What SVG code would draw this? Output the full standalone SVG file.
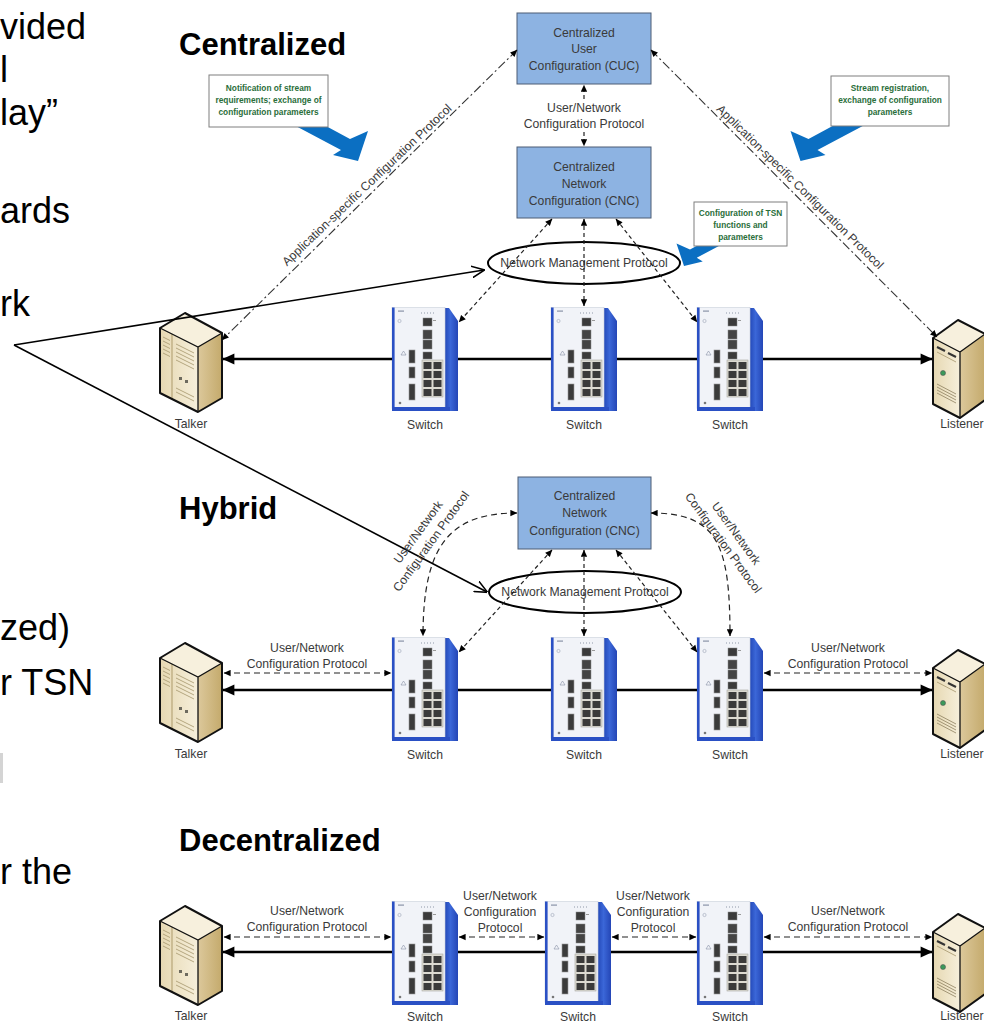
<svg xmlns="http://www.w3.org/2000/svg" xmlns:xlink="http://www.w3.org/1999/xlink" width="984" height="1023" viewBox="0 0 984 1023">
<style>
text{font-family:"Liberation Sans",Arial,sans-serif}
.big{font-size:36px;fill:#000}
.title{font-size:31px;font-weight:bold;fill:#000}
.lbl{font-size:12.2px;fill:#3a3a3a;text-anchor:middle}
.call{font-size:8.3px;font-weight:bold;fill:#2a6e3a;text-anchor:middle}
.box{fill:#8db3e2;stroke:#4d5d75;stroke-width:1}
.cbox{fill:#fff;stroke:#7f7f7f;stroke-width:1}
.thick{stroke:#000;stroke-width:2.6;fill:none}
.dash{stroke:#222;stroke-width:1.2;fill:none;stroke-dasharray:4 3}
.ldash{stroke:#222;stroke-width:1.2;fill:none;stroke-dasharray:6 4}
.dd{stroke:#333;stroke-width:1.1;fill:none;stroke-dasharray:9 3 2 3}
.ptr{stroke:#000;stroke-width:1.6;fill:none}
.ell{fill:none;stroke:#000;stroke-width:2}
.blue{fill:#0b6fc2}
</style>
<defs>
<marker id="aS" viewBox="0 0 10 10" refX="9.5" refY="5" markerUnits="userSpaceOnUse" markerWidth="8" markerHeight="7" orient="auto-start-reverse"><path d="M0,0.5 L10,5 L0,9.5 z" fill="#000"/></marker>
<marker id="aL" viewBox="0 0 10 10" refX="9.5" refY="5" markerUnits="userSpaceOnUse" markerWidth="14" markerHeight="12" orient="auto-start-reverse"><path d="M0,0.5 L10,5 L0,9.5 z" fill="#000"/></marker>
<marker id="aO" viewBox="0 0 10 10" refX="9.5" refY="5" markerUnits="userSpaceOnUse" markerWidth="13" markerHeight="13" orient="auto"><path d="M0,0.5 L10,5 L0,9.5" fill="none" stroke="#000" stroke-width="1.2"/></marker>
<linearGradient id="gBeige" x1="0" y1="0" x2="1" y2="0"><stop offset="0" stop-color="#e6d8b2"/><stop offset="1" stop-color="#f6efdb"/></linearGradient>
<linearGradient id="gSide" x1="0" y1="0" x2="1" y2="0"><stop offset="0" stop-color="#dcc89b"/><stop offset="1" stop-color="#c4aa6c"/></linearGradient>
<linearGradient id="gBlue" x1="0" y1="0" x2="1" y2="0"><stop offset="0" stop-color="#1c3fae"/><stop offset="0.5" stop-color="#3b67d8"/><stop offset="1" stop-color="#2446b6"/></linearGradient>
<g id="swShape">
<polygon points="51,1 57,1 66,14 66,104 57,104 51,101" fill="url(#gBlue)"/>
<rect x="0" y="0.5" width="53" height="101" fill="#f1f3f8" stroke="#c9cfdb" stroke-width="0.6"/>
<rect x="0" y="0.5" width="2.6" height="103" fill="#2a50c4"/>
<rect x="0" y="100" width="58" height="4" fill="#2a50c4"/>
<rect x="6" y="3.5" width="6" height="1.2" fill="#8a93a8"/>
<circle cx="7.5" cy="14" r="1.6" fill="none" stroke="#9aa3b5" stroke-width="0.6"/>
<path d="M29,6 h14" stroke="#8f98a8" stroke-width="1" stroke-dasharray="1 2"/>
<rect x="31" y="11" width="9" height="8" fill="#3b3b3b" stroke="#888" stroke-width="0.5"/>
<rect x="41" y="13" width="3" height="1" fill="#999"/>
<rect x="31" y="23" width="9" height="9" fill="#444" stroke="#888" stroke-width="0.5"/>
<rect x="31" y="33" width="9" height="9" fill="#444" stroke="#888" stroke-width="0.5"/>
<rect x="31" y="45" width="9" height="7" fill="#3b3b3b" stroke="#888" stroke-width="0.5"/>
<rect x="30" y="53" width="21" height="37" fill="#dcdad2" stroke="#a8a8a0" stroke-width="0.6"/>
<g fill="#3a3a3a">
<rect x="31.5" y="55" width="8" height="7"/><rect x="41.5" y="55" width="8" height="7"/>
<rect x="31.5" y="64" width="8" height="7"/><rect x="41.5" y="64" width="8" height="7"/>
<rect x="31.5" y="73" width="8" height="7"/><rect x="41.5" y="73" width="8" height="7"/>
<rect x="31.5" y="82" width="8" height="7"/><rect x="41.5" y="82" width="8" height="7"/>
</g>
<rect x="17" y="43" width="6" height="13" fill="#3b3b3b" stroke="#999" stroke-width="0.6"/>
<rect x="17" y="60" width="6" height="11" fill="#3b3b3b" stroke="#999" stroke-width="0.6"/>
<rect x="17" y="77" width="6" height="16" fill="#3b3b3b" stroke="#999" stroke-width="0.6"/>
<path d="M9,48 l2.5,-4 l2.5,4 z" fill="none" stroke="#8891a6" stroke-width="0.6"/>
<circle cx="8" cy="96" r="1.3" fill="#777"/>
</g>
<g id="talkerShape">
<polygon points="2,15 27,0 64,20 40,34" fill="#f7f0dd"/>
<polygon points="2,15 40,34 40,99 2,80" fill="url(#gBeige)"/>
<polygon points="40,34 64,20 64,85 40,99" fill="url(#gSide)"/>
<path d="M14,21 L14,86" stroke="#b8a679" stroke-width="1.2"/>
<g stroke="#a5956c" stroke-width="0.8">
<path d="M5,24 L12,27.5 M5,28 L12,31.5 M5,32 L12,35.5 M5,36 L12,39.5 M5,40 L12,43.5"/>
<path d="M18,31 L36,40 M18,35 L36,44 M18,39 L36,48 M18,43 L36,52 M18,47 L36,56"/>
<path d="M18,75 L36,84 M18,79 L36,88"/>
</g>
<rect x="21" y="64" width="3" height="3" fill="#6d6a5e"/>
<rect x="27" y="67" width="3" height="3" fill="#6d6a5e"/>
<path d="M2,15 L27,0 L64,20 L64,85 L40,99 L2,80 Z" fill="none" stroke="#111" stroke-width="2" stroke-linejoin="round"/>
<path d="M2,15 L40,34 L64,20 M40,34 L40,99" fill="none" stroke="#111" stroke-width="1.3"/>
</g>
<g id="listenerShape">
<polygon points="0,18 25,0 52,14 27,32" fill="#f7f0dd"/>
<polygon points="0,18 27,32 27,98 0,84" fill="url(#gBeige)"/>
<polygon points="27,32 52,14 52,80 27,98" fill="url(#gSide)"/>
<path d="M4,27 L12,31 M15,33 L23,37" stroke="#333" stroke-width="2"/>
<path d="M4,32 L23,42" stroke="#a5956c" stroke-width="0.8"/>
<circle cx="10" cy="53" r="2.5" fill="#3a9a5a" stroke="#555" stroke-width="0.6"/>
<g stroke="#8e8060" stroke-width="0.8">
<path d="M4,64 L23,74 M4,67 L23,77 M4,70 L23,80 M4,73 L23,83"/>
</g>
<path d="M0,18 L25,0 L52,14 L52,80 L27,98 L0,84 Z" fill="none" stroke="#111" stroke-width="2" stroke-linejoin="round"/>
<path d="M0,18 L27,32 L52,14 M27,32 L27,98" fill="none" stroke="#111" stroke-width="1.3"/>
</g>
</defs>
<rect x="0" y="0" width="984" height="1023" fill="#fff"/>

<g id="slide-text">
<text class="big" x="0" y="39">vided</text>
<text class="big" x="0" y="82">l</text>
<text class="big" x="0" y="125">lay”</text>
<text class="big" x="0" y="223">ards</text>
<text class="big" x="0" y="316">rk</text>
<text class="big" x="0" y="640">zed)</text>
<text class="big" x="0" y="695">r TSN</text>
<rect x="0" y="753" width="3" height="30" fill="#d4d4d4"/>
<text class="big" x="0" y="884">r the</text>
</g>

<g id="titles">
<text class="title" x="179" y="55">Centralized</text>
<text class="title" x="179" y="519">Hybrid</text>
<text class="title" x="179" y="851">Decentralized</text>
</g>

<!-- Centralized -->
<g id="cuc">
<rect class="box" x="517" y="13" width="134" height="71"/>
<text class="lbl" x="584" y="36.5">Centralized</text>
<text class="lbl" x="584" y="53">User</text>
<text class="lbl" x="584" y="69.5">Configuration (CUC)</text>
</g>
<g id="cnc">
<rect class="box" x="517" y="147" width="134" height="71"/>
<text class="lbl" x="584" y="170.5">Centralized</text>
<text class="lbl" x="584" y="187.5">Network</text>
<text class="lbl" x="584" y="204.5">Configuration (CNC)</text>
</g>
<g id="nmp-c">
<ellipse class="ell" cx="584" cy="263" rx="96" ry="21"/>
<text class="lbl" x="584" y="267.3">Network Management Protocol</text>
</g>
<g id="talker-c"><use xlink:href="#talkerShape" transform="translate(158,313)"/><text class="lbl" x="191" y="427.5">Talker</text></g>
<g id="switch-c1"><use xlink:href="#swShape" transform="translate(392,307)"/><text class="lbl" x="425" y="428.5">Switch</text></g>
<g id="switch-c2"><use xlink:href="#swShape" transform="translate(551,307)"/><text class="lbl" x="584" y="428.5">Switch</text></g>
<g id="switch-c3"><use xlink:href="#swShape" transform="translate(697,307)"/><text class="lbl" x="730" y="428.5">Switch</text></g>
<g id="listener-c"><use xlink:href="#listenerShape" transform="translate(933,320)"/><text class="lbl" x="962" y="427.5">Listener</text></g>

<!-- Hybrid -->
<g id="cnc-h">
<rect class="box" x="518" y="477" width="133" height="72"/>
<text class="lbl" x="584.5" y="499.5">Centralized</text>
<text class="lbl" x="584.5" y="517">Network</text>
<text class="lbl" x="584.5" y="534.5">Configuration (CNC)</text>
</g>
<g id="nmp-h">
<ellipse class="ell" cx="585" cy="592" rx="96" ry="21"/>
<text class="lbl" x="585" y="596.3">Network Management Protocol</text>
</g>
<g id="talker-h"><use xlink:href="#talkerShape" transform="translate(158,643)"/><text class="lbl" x="191" y="757.5">Talker</text></g>
<g id="switch-h1"><use xlink:href="#swShape" transform="translate(392,637)"/><text class="lbl" x="425" y="758.5">Switch</text></g>
<g id="switch-h2"><use xlink:href="#swShape" transform="translate(551,637)"/><text class="lbl" x="584" y="758.5">Switch</text></g>
<g id="switch-h3"><use xlink:href="#swShape" transform="translate(697,637)"/><text class="lbl" x="730" y="758.5">Switch</text></g>
<g id="listener-h"><use xlink:href="#listenerShape" transform="translate(933,650)"/><text class="lbl" x="962" y="757.5">Listener</text></g>

<!-- Decentralized -->
<g id="talker-d"><use xlink:href="#talkerShape" transform="translate(158,906)"/><text class="lbl" x="191" y="1020">Talker</text></g>
<g id="switch-d1"><use xlink:href="#swShape" transform="translate(392,901)"/><text class="lbl" x="425" y="1020.5">Switch</text></g>
<g id="switch-d2"><use xlink:href="#swShape" transform="translate(545,901)"/><text class="lbl" x="578" y="1020.5">Switch</text></g>
<g id="switch-d3"><use xlink:href="#swShape" transform="translate(697,901)"/><text class="lbl" x="730" y="1020.5">Switch</text></g>
<g id="listener-d"><use xlink:href="#listenerShape" transform="translate(933,914)"/><text class="lbl" x="962" y="1020">Listener</text></g>

<g id="connectors">
<!-- centralized -->
<path class="dd" d="M517,50 L222,340" marker-start="url(#aS)" marker-end="url(#aS)"/>
<path class="dd" d="M651,50 L937,337" marker-start="url(#aS)" marker-end="url(#aS)"/>
<path class="dash" d="M584,99 L584,85" marker-end="url(#aS)"/>
<path class="dash" d="M584,132 L584,146" marker-end="url(#aS)"/>
<path class="dash" d="M552,219 L459,322" marker-start="url(#aS)" marker-end="url(#aS)"/>
<path class="dash" d="M584,219 L584,306" marker-start="url(#aS)" marker-end="url(#aS)"/>
<path class="dash" d="M616,219 L697,322" marker-start="url(#aS)" marker-end="url(#aS)"/>
<path class="thick" d="M392,359 L223,359" marker-end="url(#aL)"/>
<path class="thick" d="M458,359 L551,359"/>
<path class="thick" d="M617,359 L697,359"/>
<path class="thick" d="M763,359 L932,359" marker-end="url(#aL)"/>
<!-- hybrid -->
<path class="ldash" d="M517,513 C450,513 423,545 423,636" marker-start="url(#aS)" marker-end="url(#aS)"/>
<path class="ldash" d="M651,513 C718,513 730,545 730,636" marker-start="url(#aS)" marker-end="url(#aS)"/>
<path class="dash" d="M552,550 L459,652" marker-start="url(#aS)" marker-end="url(#aS)"/>
<path class="dash" d="M584,550 L584,636" marker-start="url(#aS)" marker-end="url(#aS)"/>
<path class="dash" d="M616,550 L697,652" marker-start="url(#aS)" marker-end="url(#aS)"/>
<path class="ldash" d="M224,673 L391,673" marker-start="url(#aS)" marker-end="url(#aS)"/>
<path class="ldash" d="M764,673 L932,673" marker-start="url(#aS)" marker-end="url(#aS)"/>
<path class="thick" d="M392,690 L223,690" marker-end="url(#aL)"/>
<path class="thick" d="M458,690 L551,690"/>
<path class="thick" d="M617,690 L697,690"/>
<path class="thick" d="M763,690 L932,690" marker-end="url(#aL)"/>
<!-- decentralized -->
<path class="ldash" d="M224,937 L391,937" marker-start="url(#aS)" marker-end="url(#aS)"/>
<path class="ldash" d="M459,937 L544,937" marker-start="url(#aS)" marker-end="url(#aS)"/>
<path class="ldash" d="M612,937 L696,937" marker-start="url(#aS)" marker-end="url(#aS)"/>
<path class="ldash" d="M764,937 L932,937" marker-start="url(#aS)" marker-end="url(#aS)"/>
<path class="thick" d="M392,952 L223,952" marker-end="url(#aL)"/>
<path class="thick" d="M458,952 L545,952"/>
<path class="thick" d="M611,952 L697,952"/>
<path class="thick" d="M763,952 L932,952" marker-end="url(#aL)"/>
<!-- pointer lines -->
<path class="ptr" d="M14,345 L484,270" marker-end="url(#aO)"/>
<path class="ptr" d="M14,345 L487,592" marker-end="url(#aO)"/>
</g>

<g id="connector-labels">
<text class="lbl" x="584" y="112.3">User/Network</text>
<text class="lbl" x="584" y="128.3">Configuration Protocol</text>
<text class="lbl" transform="translate(367,185) rotate(-43.5)" x="0" y="4">Application-specific Configuration Protocol</text>
<text class="lbl" transform="translate(800,187) rotate(44.5)" x="0" y="4">Application-specific Configuration Protocol</text>
<g transform="translate(424.5,536.5) rotate(-54)">
<text class="lbl" x="0" y="-3.7">User/Network</text>
<text class="lbl" x="0" y="12.3">Configuration Protocol</text>
</g>
<g transform="translate(730,538) rotate(54)">
<text class="lbl" x="0" y="-3.7">User/Network</text>
<text class="lbl" x="0" y="12.3">Configuration Protocol</text>
</g>
<text class="lbl" x="307" y="652.3">User/Network</text>
<text class="lbl" x="307" y="667.5">Configuration Protocol</text>
<text class="lbl" x="848" y="652.3">User/Network</text>
<text class="lbl" x="848" y="667.5">Configuration Protocol</text>
<text class="lbl" x="307" y="915.3">User/Network</text>
<text class="lbl" x="307" y="930.5">Configuration Protocol</text>
<text class="lbl" x="500" y="900.3">User/Network</text>
<text class="lbl" x="500" y="916">Configuration</text>
<text class="lbl" x="500" y="931.7">Protocol</text>
<text class="lbl" x="653" y="900.3">User/Network</text>
<text class="lbl" x="653" y="916">Configuration</text>
<text class="lbl" x="653" y="931.7">Protocol</text>
<text class="lbl" x="848" y="915.3">User/Network</text>
<text class="lbl" x="848" y="930.5">Configuration Protocol</text>
</g>

<g id="callout-1">
<polygon class="blue" points="300,112 350,139 368,131 358,161 333,155 341,150 292,124"/>
<rect class="cbox" x="209" y="75" width="119" height="52"/>
<text class="call" x="268.5" y="91">Notification of stream</text>
<text class="call" x="268.5" y="103">requirements; exchange of</text>
<text class="call" x="268.5" y="115">configuration parameters</text>
</g>
<g id="callout-2">
<polygon class="blue" points="858.5,112 808.5,139 790.5,131 800.5,161 825.5,155 817.5,150 866.5,124"/>
<rect class="cbox" x="831" y="76" width="118" height="50"/>
<text class="call" x="890" y="91">Stream registration,</text>
<text class="call" x="890" y="103">exchange of configuration</text>
<text class="call" x="890" y="115">parameters</text>
</g>
<g id="callout-3">
<polygon class="blue" points="727.5,229.25 690,249.5 676.5,243.5 684,266 702.75,261.5 696.75,257.75 733.5,238.25"/>
<rect class="cbox" x="694" y="202" width="93" height="44"/>
<text class="call" x="740.5" y="216">Configuration of TSN</text>
<text class="call" x="740.5" y="228">functions and</text>
<text class="call" x="740.5" y="240">parameters</text>
</g>
</svg>
